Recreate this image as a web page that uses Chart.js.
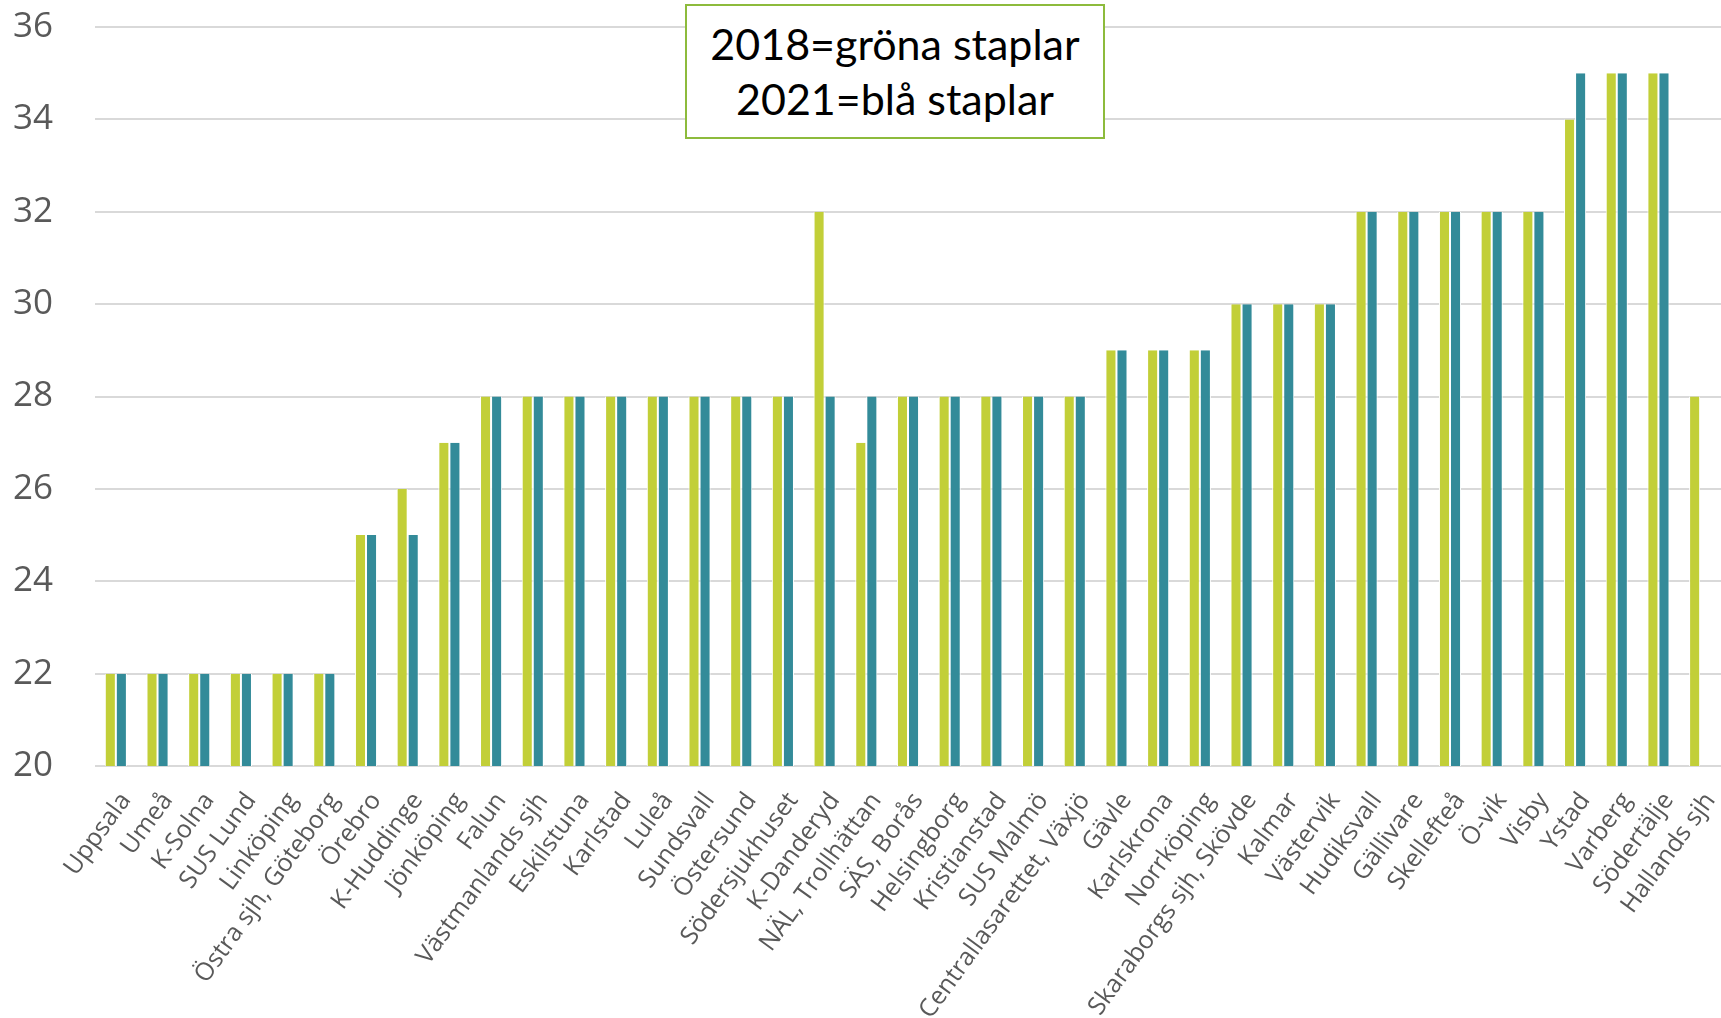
<!DOCTYPE html>
<html>
<head>
<meta charset="utf-8">
<script src="https://cdn.jsdelivr.net/npm/chart.js@4"></script>
<style>
  html, body { margin: 0; padding: 0; background: #fff; overflow: hidden; }
  #page { position: relative; width: 1721px; height: 1018px; }
  #note {
    position: absolute; left: 685px; top: 4px; width: 420px; height: 135px;
    border: 2px solid #8DBB3C; background: #fff; box-sizing: border-box;
    font-family: Lato, "Open Sans", sans-serif; font-size: 43px; line-height: 55px;
    color: #000; text-align: center; padding-top: 10px;
  }
</style>
</head>
<body>
<div id="page">
  <canvas id="chart" width="1721" height="1018"></canvas>
  <div id="note">2018=gröna staplar<br>2021=blå staplar</div>
</div>
<script>
// sjukhus
const labels = [
    'Uppsala', 'Umeå', 'K-Solna', 'SUS Lund', 'Linköping', 'Östra sjh, Göteborg',
    'Örebro', 'K-Huddinge', 'Jönköping', 'Falun', 'Västmanlands sjh', 'Eskilstuna',
    'Karlstad', 'Luleå', 'Sundsvall', 'Östersund', 'Södersjukhuset', 'K-Danderyd',
    'NÄL, Trollhättan', 'SÄS, Borås', 'Helsingborg', 'Kristianstad', 'SUS Malmö',
    'Centrallasarettet, Växjö', 'Gävle', 'Karlskrona', 'Norrköping', 'Skaraborgs sjh, Skövde',
    'Kalmar', 'Västervik', 'Hudiksvall', 'Gällivare', 'Skellefteå', 'Ö-vik', 'Visby',
    'Ystad', 'Varberg', 'Södertälje', 'Hallands sjh'
];

// 2018 = gröna staplar
const values2018 = [
    22, 22, 22, 22, 22, 22,
    25, 26, 27, 28, 28, 28,
    28, 28, 28, 28, 28, 32,
    27, 28, 28, 28, 28,
    28, 29, 29, 29, 30,
    30, 30, 32, 32, 32, 32, 32,
    34, 35, 35, 28
];

// 2021 = blå staplar
const values2021 = [
    22, 22, 22, 22, 22, 22,
    25, 25, 27, 28, 28, 28,
    28, 28, 28, 28, 28, 28,
    28, 28, 28, 28, 28,
    28, 29, 29, 29, 30,
    30, 30, 32, 32, 32, 32, 32,
    35, 35, 35, null
];

const yTicks = [20, 22, 24, 26, 28, 30, 32, 34, 36];

const ctx = document.getElementById('chart').getContext('2d');

new Chart(ctx, {
    type: 'bar',
    data: {
        labels: labels,
        datasets: [{
            label: '2018',
            data: values2018,
            backgroundColor: '#C2CF38',
            borderColor: '#ffffff',
            borderWidth: { left: 1, right: 1, top: 0, bottom: 0 }
        }, {
            label: '2021',
            data: values2021,
            backgroundColor: '#338B99',
            borderColor: '#ffffff',
            borderWidth: { left: 1, right: 1, top: 0, bottom: 0 }
        }]
    },
    options: {
        responsive: false,
        animation: false,
        layout: { padding: { left: 13, right: 0, top: 0, bottom: 0 } },
        plugins: {
            legend: { display: false },
            tooltip: { enabled: false }
        },
        datasets: {
            bar: { barPercentage: 1, categoryPercentage: 0.53 }
        },
        scales: {
            x: {
                grid: { display: false },
                border: { display: false },
                afterFit: function (axis) {
                    axis.height = 252;
                    axis.paddingLeft = 0;
                    axis.paddingRight = 0;
                },
                ticks: {
                    autoSkip: false,
                    maxRotation: 54,
                    minRotation: 54,
                    padding: 13,
                    labelOffset: 10,
                    color: '#595959',
                    font: { family: '"Open Sans", sans-serif', size: 25 }
                }
            },
            y: {
                min: yTicks[0],
                max: yTicks[yTicks.length - 1],
                afterBuildTicks: function (axis) {
                    axis.ticks = yTicks.map(v => ({ value: v }));
                },
                afterFit: function (axis) { axis.width = 82; },
                grid: { color: '#D9D9D9', lineWidth: 2, drawTicks: false },
                border: { display: false },
                ticks: {
                    padding: 2,
                    crossAlign: 'far',
                    color: '#595959',
                    font: { family: '"Open Sans", sans-serif', size: 35, lineHeight: 1.43 }
                }
            }
        }
    }
});
</script>
</body>
</html>
